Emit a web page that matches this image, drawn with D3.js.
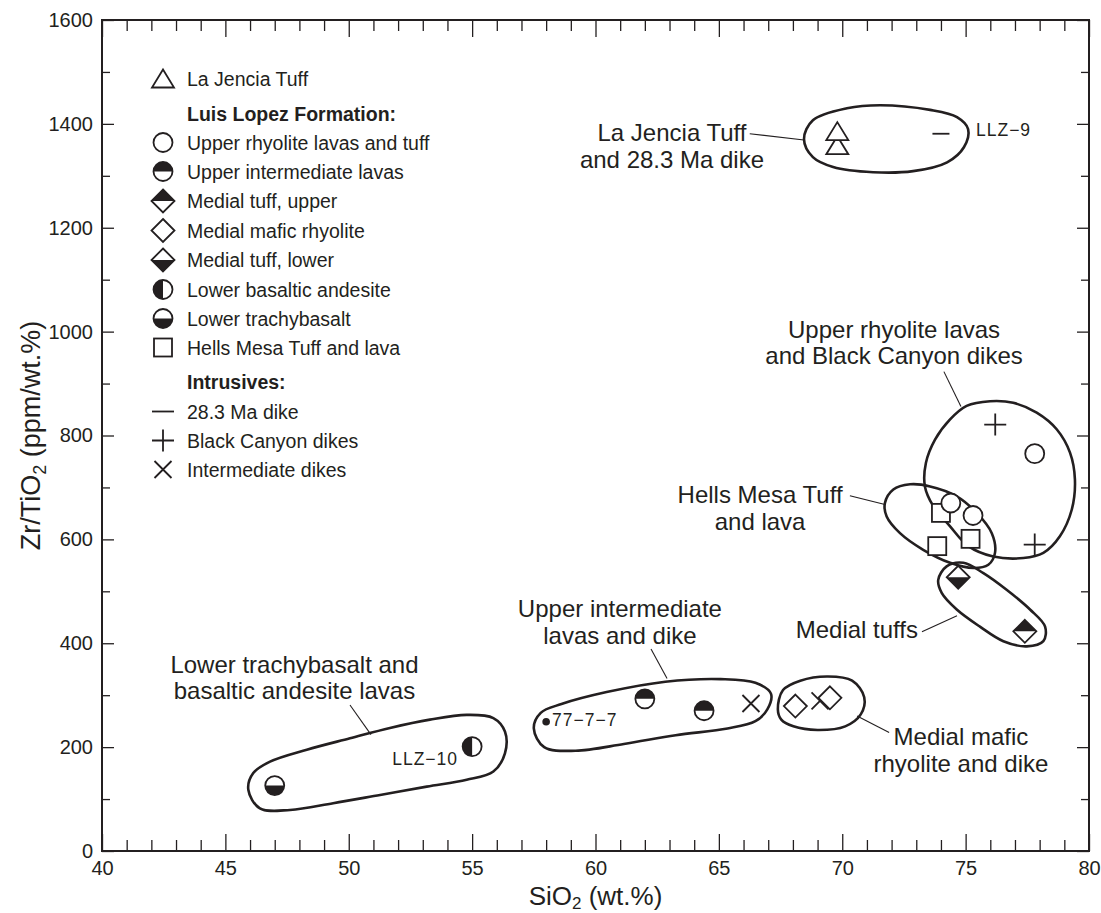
<!DOCTYPE html>
<html><head><meta charset="utf-8">
<script src="https://cdn.jsdelivr.net/npm/d3@7"></script>
<style>
body{margin:0;background:#fff;}
svg{display:block;}
</style>
</head><body>
<svg id="chart" width="1101" height="913"></svg>
<script>
// ---------------- data (SiO2 wt.%, Zr/TiO2 ppm/wt.%) ----------------
const xTickValues = [40,45,50,55,60,65,70,75,80];
const yTickValues = [0,200,400,600,800,1000,1200,1400,1600];

const laJenciaTuff          = [[69.8,1359],[69.8,1386]];
const upperRhyolite         = [[74.4,670],[75.3,646],[77.8,765]];
const upperIntermediate     = [[62.0,293],[64.4,270]];
const medialTuffUpper       = [[77.4,423]];
const medialMaficRhyolite   = [[68.1,279],[69.5,295]];
const medialTuffLower       = [[74.7,527]];
const lowerBasalticAndesite = [[55.0,201]];
const lowerTrachybasalt     = [[47.0,126]];
const hellsMesa             = [[74.0,651],[73.85,587],[75.2,601]];
const dike283               = [[74.0,1381]];
const blackCanyonDikes      = [[76.2,821],[77.8,590]];
const intermediateDikes     = [[66.3,284],[69.1,289]];
const sample77_7_7          = [[58.0,249]];

// group envelopes (hand-drawn outlines, in data units)
const envLaJencia = [[68.45,1371],[68.81,1407],[70.19,1430],[71.53,1436],[73.56,1427],[74.65,1413],[75.10,1390],[74.93,1355],[74.25,1326],[72.87,1309],[71.25,1307],[69.63,1317],[68.81,1336]];
const envUpperRhyolite = [[75.04,857],[75.99,866],[76.93,863],[77.88,844],[78.69,812],[79.23,767],[79.43,715],[79.30,657],[78.82,606],[78.15,574],[77.34,564],[76.12,567],[75.11,587],[74.37,625],[73.69,664],[73.35,702],[73.39,747],[73.76,792],[74.37,831]];
const envHellsMesa = [[71.73,670],[72.07,696],[72.75,706],[73.56,702],[74.64,683],[75.45,651],[76.06,612],[76.19,574],[75.92,551],[75.31,545],[74.37,555],[73.28,580],[72.34,612],[71.80,644]];
const envMedialTuffs = [[73.89,522],[74.23,548],[74.91,555],[75.72,535],[76.66,503],[77.61,465],[78.22,432],[78.15,404],[77.48,394],[76.53,404],[75.58,432],[74.64,465],[74.03,497]];
const envLowerLavas = [[45.93,118],[46.13,150],[46.81,172],[48.30,195],[50.05,217],[51.67,237],[53.29,253],[54.78,262],[55.86,256],[56.33,230],[56.33,188],[55.86,153],[54.78,137],[53.16,124],[51.27,108],[49.37,92],[47.62,79],[46.40,82]];
const envUpperIntermediate = [[57.50,236],[57.78,266],[58.62,283],[60.45,306],[62.83,326],[65.07,331],[66.48,324],[67.11,303],[66.97,273],[66.48,250],[65.35,236],[63.25,223],[61.15,206],[59.19,193],[57.92,200]];
const envMedialMafic = [[67.39,273],[67.60,310],[68.30,328],[69.42,336],[70.40,328],[70.89,296],[70.75,263],[70.12,240],[69.00,233],[68.02,240],[67.53,253]];

const legendLabels = ["La Jencia Tuff","Luis Lopez Formation:","Upper rhyolite lavas and tuff","Upper intermediate lavas","Medial tuff, upper","Medial mafic rhyolite","Medial tuff, lower","Lower basaltic andesite","Lower trachybasalt","Hells Mesa Tuff and lava","Intrusives:","28.3 Ma dike","Black Canyon dikes","Intermediate dikes"];
const legendSymbols = ["triangle",null,"circle","circleTop","diamondTop","diamond","diamondBottom","circleLeft","circleBottom","square",null,"dash","plus","cross"];

// ---------------- drawing ----------------
const INK = "#231f20";
const FONT = "'Liberation Sans', Arial, Helvetica, sans-serif";
const svg = d3.select("#chart");
const x = d3.scaleLinear().domain([40,80]).range([102,1089]);
const y = d3.scaleLinear().domain([0,1600]).range([851,20]);

function styleAxis(g){
  g.select(".domain").remove();
  g.selectAll("line").attr("stroke",INK).attr("stroke-width",1.3);
  g.selectAll("text").attr("font-size",20).attr("fill",INK).attr("font-family",FONT);
}
const xMinor = d3.range(41,80).filter(v=>v%5!==0);
const yMinor = d3.range(100,1600,200);

svg.append("g").attr("transform",`translate(0,${y(0)})`)
  .call(d3.axisBottom(x).tickValues(xMinor).tickSize(-11).tickFormat("")).call(styleAxis);
svg.append("g").attr("transform",`translate(0,${y(0)})`)
  .call(d3.axisBottom(x).tickValues(xTickValues).tickSize(-17).tickPadding(10).tickFormat(d3.format("d"))).call(styleAxis);
svg.append("g").attr("transform",`translate(0,${y(1600)})`)
  .call(d3.axisTop(x).tickValues(xMinor).tickSize(-11).tickFormat("")).call(styleAxis);
svg.append("g").attr("transform",`translate(0,${y(1600)})`)
  .call(d3.axisTop(x).tickValues(xTickValues).tickSize(-17).tickFormat("")).call(styleAxis);
svg.append("g").attr("transform",`translate(${x(40)},0)`)
  .call(d3.axisLeft(y).tickValues(yMinor).tickSize(-8).tickFormat("")).call(styleAxis);
svg.append("g").attr("transform",`translate(${x(40)},0)`)
  .call(d3.axisLeft(y).tickValues(yTickValues).tickSize(-12).tickPadding(9).tickFormat(d3.format("d"))).call(styleAxis);
svg.append("g").attr("transform",`translate(${x(80)},0)`)
  .call(d3.axisRight(y).tickValues(yMinor).tickSize(-8).tickFormat("")).call(styleAxis);
svg.append("g").attr("transform",`translate(${x(80)},0)`)
  .call(d3.axisRight(y).tickValues(yTickValues).tickSize(-12).tickFormat("")).call(styleAxis);

svg.append("rect").attr("x",x(40)).attr("y",y(1600))
  .attr("width",x(80)-x(40)).attr("height",y(0)-y(1600))
  .attr("fill","none").attr("stroke",INK).attr("stroke-width",2);

// axis titles
const xt = svg.append("text").attr("x",(x(40)+x(80))/2).attr("y",905)
  .attr("text-anchor","middle").attr("font-size",26).attr("font-family",FONT).attr("fill",INK);
xt.append("tspan").text("SiO");
xt.append("tspan").text("2").attr("font-size",17).attr("dy",4);
xt.append("tspan").text(" (wt.%)").attr("dy",-4);

const yt = svg.append("text").attr("transform",`translate(40,${(y(0)+y(1600))/2}) rotate(-90)`)
  .attr("text-anchor","middle").attr("font-size",27).attr("font-family",FONT).attr("fill",INK);
yt.append("tspan").text("Zr/TiO");
yt.append("tspan").text("2").attr("font-size",18).attr("dy",6);
yt.append("tspan").text(" (ppm/wt.%)").attr("dy",-6);

// envelopes
const closed = d3.line().x(d=>x(d[0])).y(d=>y(d[1])).curve(d3.curveCatmullRomClosed.alpha(0.5));
[envLaJencia,envUpperRhyolite,envHellsMesa,envMedialTuffs,envLowerLavas,envUpperIntermediate,envMedialMafic]
  .forEach(env=>{
    svg.append("path").attr("d",closed(env)).attr("fill","none")
      .attr("stroke",INK).attr("stroke-width",2.6);
  });

// symbols
function drawSymbol(g,type,legend){
  const sw = 1.8;
  const r = 9.5;
  const stroke = s=>s.attr("stroke",INK).attr("stroke-width",sw);
  switch(type){
    case "triangle":
      stroke(g.append("path").attr("d","M0,-9L11,9L-11,9Z").attr("fill","#fff").attr("stroke-linejoin","miter"));
      break;
    case "circle":
      stroke(g.append("circle").attr("r",r).attr("fill","#fff"));
      break;
    case "circleTop":
    case "circleBottom":
    case "circleLeft": {
      g.append("circle").attr("r",r).attr("fill","#fff");
      const d = type==="circleTop" ? `M${-r},0A${r},${r} 0 0 1 ${r},0Z`
              : type==="circleBottom" ? `M${-r},0A${r},${r} 0 0 0 ${r},0Z`
              : `M0,${-r}A${r},${r} 0 0 0 0,${r}Z`;
      g.append("path").attr("d",d).attr("fill",INK);
      stroke(g.append("circle").attr("r",r).attr("fill","none"));
      break; }
    case "diamond":
    case "diamondTop":
    case "diamondBottom": {
      const h = 11.5;
      g.append("path").attr("d",`M0,${-h}L${h},0L0,${h}L${-h},0Z`).attr("fill","#fff");
      if(type==="diamondTop") g.append("path").attr("d",`M${-h},0L0,${-h}L${h},0Z`).attr("fill",INK);
      if(type==="diamondBottom") g.append("path").attr("d",`M${-h},0L0,${h}L${h},0Z`).attr("fill",INK);
      stroke(g.append("path").attr("d",`M0,${-h}L${h},0L0,${h}L${-h},0Z`).attr("fill","none"));
      break; }
    case "square":
      stroke(g.append("rect").attr("x",-9).attr("y",-9).attr("width",18).attr("height",18).attr("fill","#fff"));
      break;
    case "dash": {
      const w = legend ? 11 : 8.5;
      stroke(g.append("line").attr("x1",-w).attr("x2",w).attr("y1",0).attr("y2",0));
      break; }
    case "plus":
      stroke(g.append("path").attr("d","M-11,0H11M0,-11V11").attr("fill","none"));
      break;
    case "cross":
      stroke(g.append("path").attr("d","M-8.5,-8.5L8.5,8.5M-8.5,8.5L8.5,-8.5").attr("fill","none"));
      break;
    case "dot":
      g.append("circle").attr("r",3.8).attr("fill",INK);
      break;
  }
}

const series = [
  {data:lowerTrachybasalt, sym:"circleBottom"},
  {data:lowerBasalticAndesite, sym:"circleLeft"},
  {data:sample77_7_7, sym:"dot"},
  {data:upperIntermediate, sym:"circleTop"},
  {data:intermediateDikes, sym:"cross"},
  {data:medialMaficRhyolite, sym:"diamond"},
  {data:hellsMesa, sym:"square"},
  {data:upperRhyolite, sym:"circle"},
  {data:blackCanyonDikes, sym:"plus"},
  {data:medialTuffLower, sym:"diamondBottom"},
  {data:medialTuffUpper, sym:"diamondTop"},
  {data:laJenciaTuff, sym:"triangle"},
  {data:dike283, sym:"dash"}
];
series.forEach(s=>{
  svg.append("g").selectAll("g").data(s.data).join("g")
    .attr("transform",d=>`translate(${x(d[0])},${y(d[1])})`)
    .each(function(){ drawSymbol(d3.select(this), s.sym, false); });
});

// annotations: leader lines
const leaders = [
  [[66.25,1381],[68.45,1369]],
  [[74.12,923],[74.81,856]],
  [[70.31,684],[71.73,667]],
  [[73.23,422],[74.65,453]],
  [[62.25,389],[62.90,332]],
  [[50.05,281],[50.90,224]],
  [[70.60,260],[71.90,228]]
];
leaders.forEach(l=>{
  svg.append("line").attr("x1",x(l[0][0])).attr("y1",y(l[0][1]))
    .attr("x2",x(l[1][0])).attr("y2",y(l[1][1]))
    .attr("stroke",INK).attr("stroke-width",1.1);
});

const notes = [
  {at:[63.10,1367], anchor:"middle", lines:["La Jencia Tuff","and 28.3 Ma dike"]},
  {at:[72.10,988], anchor:"middle", lines:["Upper rhyolite lavas","and Black Canyon dikes"]},
  {at:[66.67,670], anchor:"middle", lines:["Hells Mesa Tuff","and lava"]},
  {at:[73.07,411], anchor:"end", lines:["Medial tuffs"]},
  {at:[60.99,450], anchor:"middle", lines:["Upper intermediate","lavas and dike"]},
  {at:[47.80,343], anchor:"middle", lines:["Lower trachybasalt and","basaltic andesite lavas"]},
  {at:[74.81,204], anchor:"middle", lines:["Medial mafic","rhyolite and dike"]}
];
notes.forEach(n=>{
  const t = svg.append("text").attr("x",x(n.at[0])).attr("y",y(n.at[1]))
    .attr("text-anchor",n.anchor).attr("font-size",24).attr("font-family",FONT).attr("fill",INK);
  n.lines.forEach((ln,i)=>{
    t.append("tspan").attr("x",x(n.at[0])).attr("dy",i===0?0:26.5).text(ln);
  });
});

const sampleLabels = [
  {at:[75.42,1376], anchor:"start", text:"LLZ\u22129"},
  {at:[54.43,166], anchor:"end", text:"LLZ\u221210"},
  {at:[58.24,241], anchor:"start", text:"77\u22127\u22127"}
];
sampleLabels.forEach(s=>{
  svg.append("text").attr("x",x(s.at[0])).attr("y",y(s.at[1]))
    .attr("text-anchor",s.anchor).attr("font-size",17.5).attr("letter-spacing",1)
    .attr("font-family",FONT).attr("fill",INK).text(s.text);
});

// legend
const legendRowY = [78.5,113.5,142.5,171.5,201,230.5,260,289.5,318.5,347.5,381.5,411.5,440.5,469.5];
const lg = svg.append("g");
legendLabels.forEach((lab,i)=>{
  const sym = legendSymbols[i];
  if(sym){
    const g = lg.append("g").attr("transform",`translate(163,${legendRowY[i]})`);
    drawSymbol(g,sym,true);
  }
  lg.append("text").attr("x",187).attr("y",legendRowY[i]+7.3)
    .attr("font-size",19.5).attr("font-family",FONT).attr("fill",INK)
    .attr("font-weight",sym?"normal":"bold").text(lab);
});
</script>
</body></html>
